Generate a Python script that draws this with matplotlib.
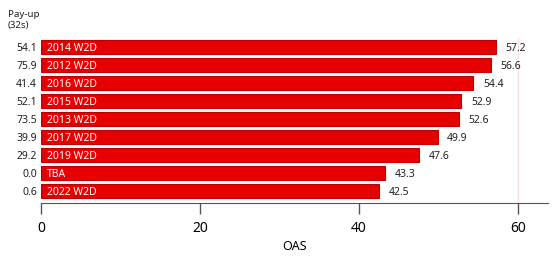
import matplotlib
matplotlib.use("Agg")
import matplotlib.pyplot as plt

categories = ["2014 W2D", "2012 W2D", "2016 W2D", "2015 W2D", "2013 W2D",
              "2017 W2D", "2019 W2D", "TBA", "2022 W2D"]
oas = [57.2, 56.6, 54.4, 52.9, 52.6, 49.9, 47.6, 43.3, 42.5]
payup = ["54.1", "75.9", "41.4", "52.1", "73.5", "39.9", "29.2", "0.0", "0.6"]
xticks = [0, 20, 40, 60]

plt.rcParams['font.family'] = ['Noto Sans', 'DejaVu Sans']

fig = plt.figure(figsize=(5.56, 2.59), dpi=100)
ax = fig.add_axes([41/556, 1-203/259, 507/556, 165/259])

ys = list(range(len(categories)))
ax.barh(ys, oas, height=0.83, color='#e60000', edgecolor='#c00000', linewidth=0.8)
ax.axvline(60, color='#fbdde3', linewidth=1, zorder=0)

for y, v, c in zip(ys, oas, categories):
    ax.text(0.8, y, c, color='white', fontsize=7.5, va='center_baseline', ha='left', fontweight='semibold')
    ax.annotate(f"{v:.1f}", (v, y), xytext=(7, 0), textcoords='offset points',
                fontsize=7.5, va='center_baseline', ha='left', color='#222222')

ax.set_xlim(0, 63.8)
ax.set_ylim(8.667, -0.5)
ax.set_yticks(ys)
ax.set_yticklabels(payup, fontsize=7.5, color='#222222', va='center_baseline')
ax.tick_params(axis='y', length=0, pad=3)
ax.set_xticks(xticks)
ax.set_xticklabels([str(t) for t in xticks], fontsize=10)
ax.tick_params(axis='x', length=8, width=1, color='#555555', pad=5)
for s in ['top', 'right', 'left']:
    ax.spines[s].set_visible(False)
ax.spines['bottom'].set_color('#555555')
ax.set_xlabel("OAS", fontsize=9, labelpad=3)

fig.text(8/556, 1-20/259, "Pay-up\n(32s)", fontsize=7, va='center', ha='left', color='#222222', linespacing=1.2)

fig.savefig("out.png", dpi=100)
